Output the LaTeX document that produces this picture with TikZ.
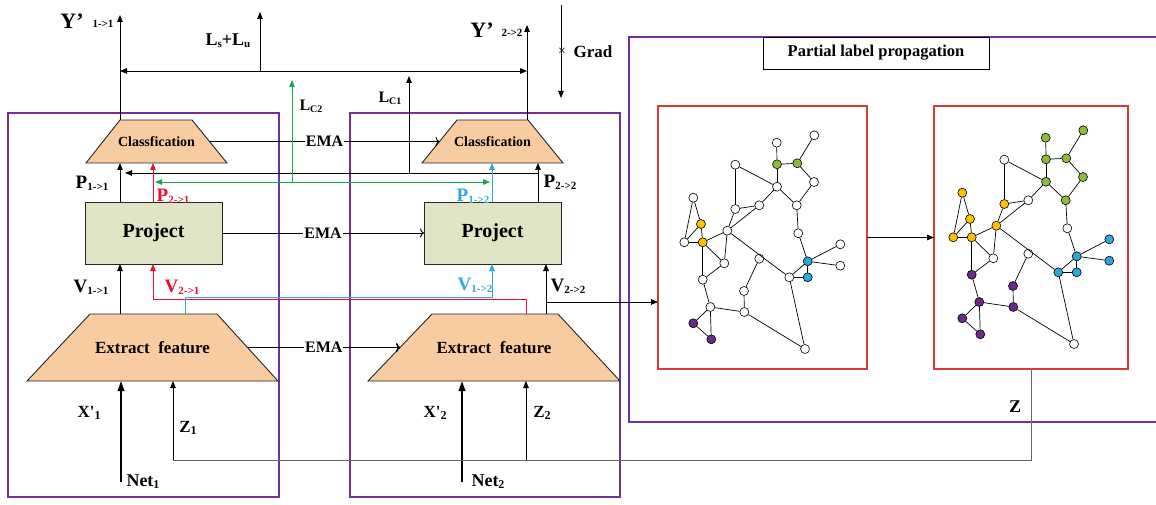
\documentclass[tikz,border=0pt]{standalone}
\usepackage{fontspec}
\setmainfont{Liberation Serif}
\usetikzlibrary{arrows.meta,shapes.geometric}
\definecolor{purp}{HTML}{7030A0}
\definecolor{redbox}{HTML}{D63B3B}
\definecolor{peach}{HTML}{F8CBA0}
\definecolor{projg}{HTML}{E0E5C6}
\definecolor{myred}{HTML}{E8102A}
\definecolor{myblue}{HTML}{2EA8E0}
\definecolor{mygreen}{HTML}{1AA64A}
\definecolor{ngreen}{HTML}{8CBB3C}
\definecolor{nyellow}{HTML}{FFC000}
\definecolor{nblue}{HTML}{2EA5DE}
\definecolor{npurple}{HTML}{6A2A87}
\newcommand{\fs}[1]{\fontsize{#1}{#1}\selectfont}
\newcommand{\lo}[2][11]{\raisebox{-2pt}{\fs{#1}#2}}
\begin{document}
\begin{tikzpicture}[x=1pt,y=-1pt,
  purplebox/.style={draw=purp,line width=1.8pt},
  hold/.style={rectangle,inner sep=0pt,outer sep=0pt},
  trapfill/.style={draw=black!85,fill=peach,line width=0.9pt},
  projbox/.style={rectangle,draw=black!85,fill=projg,line width=0.9pt,minimum width=137pt,minimum height=62pt,inner sep=0pt,outer sep=0pt},
  gframe/.style={rectangle,draw=redbox,line width=1.5pt,minimum height=263pt,inner sep=0pt,outer sep=0pt},
  txt/.style={font=\bfseries,inner sep=0pt},
  arr/.style={-{Triangle[length=7pt,width=5.5pt]},line width=0.8pt},
  thickarr/.style={-{Triangle[length=10pt,width=6.5pt]},line width=2pt},
  dblarr/.style={{Triangle[length=7pt,width=5.5pt]}-{Triangle[length=7pt,width=5.5pt]},line width=0.8pt},
  emaarr/.style={-{To[length=4pt,width=9pt]},line width=0.9pt},
  ema/.style={font=\bfseries\fs{16},fill=white,inner sep=1pt},
  gn/.style={circle,draw=black,line width=0.6pt,minimum size=9pt,inner sep=0pt},
  gedge/.style={line width=0.7pt},
  zline/.style={draw=black!60,line width=1pt},
]
\useasboundingbox (0,0) rectangle (1156,505);

% frames
\draw[purplebox] (8,113) rectangle (279,497);
\draw[purplebox] (350,113) rectangle (620,497);
\draw[purplebox] (1156,37) -- (629,37) -- (629,422) -- (1156,422);

% blocks network 1
\node[hold,minimum width=141pt,minimum height=43pt] (cls1) at (156.5,141.5) {};
\draw[trapfill] ([xshift=34pt]cls1.north west) -- ([xshift=-35pt]cls1.north east) -- (cls1.south east) -- (cls1.south west) -- cycle;
\node[txt,font=\bfseries\fs{14}] (cls1t) at (cls1.center) {Classfication};
\node[projbox] (proj1) at (153.5,233) {};
\node[txt,font=\bfseries\fs{20}] (proj1t) at (proj1.center) {Project};
\node[hold,minimum width=251pt,minimum height=67pt] (ext1) at (152.5,347.5) {};
\draw[trapfill] ([xshift=63pt]ext1.north west) -- ([xshift=-61pt]ext1.north east) -- (ext1.south east) -- (ext1.south west) -- cycle;
\node[txt,font=\bfseries\fs{17}] (ext1t) at (ext1.center) {Extract\ \ feature};

% blocks network 2
\node[hold,minimum width=141pt,minimum height=43pt] (cls2) at (492.5,141.5) {};
\draw[trapfill] ([xshift=35pt]cls2.north west) -- ([xshift=-35pt]cls2.north east) -- (cls2.south east) -- (cls2.south west) -- cycle;
\node[txt,font=\bfseries\fs{14}] (cls2t) at (cls2.center) {Classfication};
\node[projbox] (proj2) at (492.5,233) {};
\node[txt,font=\bfseries\fs{20}] (proj2t) at (proj2.center) {Project};
\node[hold,minimum width=252pt,minimum height=67pt] (ext2) at (494,347.5) {};
\draw[trapfill] ([xshift=64pt]ext2.north west) -- ([xshift=-62pt]ext2.north east) -- (ext2.south east) -- (ext2.south west) -- cycle;
\node[txt,font=\bfseries\fs{17}] (ext2t) at (ext2.center) {Extract\ \ feature};

% graph panel
\node[draw,line width=0.9pt,minimum width=226pt,minimum height=32pt,inner sep=0pt,fill=white,font=\bfseries\fs{16.5}] (title) at (876,53) {Partial label propagation};
\node[gframe,minimum width=209pt] (gbox1) at (762.5,237.5) {};
\node[gframe,minimum width=194pt] (gbox2) at (1031,237.5) {};
\draw[arr] (gbox1.east) -- (gbox2.west);

% column coordinates
\coordinate (cA) at (120,0);
\coordinate (cR) at (153,0);
\coordinate (cB) at (185,0);
\coordinate (cBl) at (492,0);
\coordinate (cRr) at (526,0);
\coordinate (cE) at (538,0);
\coordinate (cF) at (546,0);
\coordinate (cD) at (527,0);
\coordinate (redy) at (0,299);
\coordinate (bluey) at (0,297);

% EMA links
\draw[emaarr] ([xshift=-17.5pt]cls1.east) -- node[ema] (ema1) {EMA} ([xshift=17.5pt]cls2.west);
\draw[emaarr] (proj1.east) -- node[ema] (ema2) {EMA} (proj2.west);
\draw[emaarr,line width=1.5pt] ([xshift=-30.5pt]ext1.east) -- node[ema] (ema3) {EMA} ([xshift=32pt]ext2.west);

% network 1 vertical flow
\draw[arr] (ext1.north -| cA) -- (proj1.south -| cA);
\draw[arr] (proj1.north -| cA) -- (cls1.south -| cA);
\coordinate (y11) at (120,15);
\draw[arr] (cls1.north -| cA) -- (y11);

% network 2 vertical flow
\draw[arr] (ext2.north -| cF) -- (proj2.south -| cF);
\draw[arr] (proj2.north -| cE) -- (cls2.south -| cE);
\coordinate (y22) at (527,25);
\draw[arr] (cls2.north -| cD) -- (y22);

% losses
\coordinate (tl) at (120,71);
\coordinate (tr) at (527,71);
\draw[dblarr] (tl) -- (tr);
\coordinate (lsb) at (260,71);
\coordinate (lst) at (260,12);
\draw[arr] (lsb) -- (lst);
\coordinate (pb) at (538,173);
\coordinate (pa) at (125,173);
\draw[arr] (pb) -- (pa);
\coordinate (lc1b) at (409,173);
\coordinate (lc1t) at (409,76);
\draw[arr] (lc1b) -- (lc1t);
\coordinate (gr1) at (561,5);
\coordinate (gr2) at (561,98);
\draw[arr] (gr1) -- (gr2);

% green
\coordinate (gl) at (155,182);
\coordinate (grr) at (490,182);
\coordinate (lc2b) at (292,182);
\coordinate (lc2t) at (292,80);
\draw[dblarr,color=mygreen] (gl) -- (grr);
\draw[arr,color=mygreen] (lc2b) -- (lc2t);

% red cross path
\draw[arr,color=myred] (ext2.north -| cRr) -- (cRr |- redy) -- (cR |- redy) -- (proj1.south -| cR);
\draw[arr,color=myred] (proj1.north -| cR) -- (cls1.south -| cR);
% blue cross path
\draw[arr,color=myblue] (ext1.north -| cB) -- (cB |- bluey) -- (cBl |- bluey) -- (proj2.south -| cBl);
\draw[arr,color=myblue] (proj2.north -| cBl) -- (cls2.south -| cBl);

% to graph
\coordinate (vb) at (546,302);
\draw[arr] (vb) -- (vb -| gbox1.west);

% inputs
\coordinate (n1b) at (121,482);
\coordinate (n2b) at (462,482);
\draw[thickarr] (n1b) -- (n1b |- ext1.south);
\draw[thickarr] (n2b) -- (n2b |- ext2.south);
\coordinate (zc) at (1031,460);
\coordinate (z1) at (173,460);
\coordinate (z2) at (526,460);
\draw[zline] (gbox2.south) -- (zc) -- (z1);
\draw[arr] (z1) -- (z1 |- ext1.south);
\draw[arr] (z2) -- (z2 |- ext2.south);

% labels
\node[txt,font=\bfseries\fs{22}] (ly1) at (72,21) {Y’};
\node[txt,font=\bfseries\fs{11}] (ly1s) at (103,24) {1->1};
\node[txt,font=\bfseries\fs{22}] (ly2) at (482,30) {Y’};
\node[txt,font=\bfseries\fs{11}] (ly2s) at (512,33) {2->2};
\node[txt] (lls) at (228,41) {\fs{18}L\lo{s}+L\lo{u}};
\node[txt,font=\fs{14}] (lx) at (562,52) {×};
\node[txt,font=\bfseries\fs{17}] (lgrad) at (593,52) {Grad};
\node[txt] (llc2) at (311,106) {\fs{16}L\lo[10]{C2}};
\node[txt] (llc1) at (390,98) {\fs{16}L\lo[10]{C1}};
\node[txt] (lp11) at (92,183) {\fs{19}P\lo{1->1}};
\node[txt,text=myred] (lp21) at (173,196) {\fs{19}P\lo{2->1}};
\node[txt,text=myblue] (lp12) at (473,196) {\fs{19}P\lo{1->2}};
\node[txt] (lp22) at (560,182) {\fs{19}P\lo{2->2}};
\node[txt] (lv11) at (91,287) {\fs{19}V\lo{1->1}};
\node[txt,text=myred] (lv21) at (182,287) {\fs{19}V\lo{2->1}};
\node[txt,text=myblue] (lv12) at (475,285) {\fs{19}V\lo{1->2}};
\node[txt] (lv22) at (568,286) {\fs{19}V\lo{2->2}};
\node[txt] (lx1) at (89,413) {\fs{17}X\textquotesingle\lo[12]{1}};
\node[txt] (lz1) at (188,428) {\fs{17}Z\lo[12]{1}};
\node[txt] (lnet1) at (143,482) {\fs{18}Net\lo[12]{1}};
\node[txt] (lx2) at (435,413) {\fs{17}X\textquotesingle\lo[12]{2}};
\node[txt] (lz2) at (542,413) {\fs{17}Z\lo[12]{2}};
\node[txt] (lnet2) at (488,482) {\fs{18}Net\lo[12]{2}};
\node[txt,font=\bfseries\fs{18}] (lz) at (1015,407) {Z};

% graphs
\foreach \n/\x/\y/\ca/\cb in {
 1/776.7/142.7/white/ngreen, 2/814.3/135.3/white/ngreen, 3/777/164.3/ngreen/ngreen,
 4/797.3/163.3/ngreen/ngreen, 5/735.3/164.7/white/white, 6/814/182/white/ngreen,
 7/777/186.7/white/ngreen, 8/796.7/205.3/white/ngreen, 9/693.3/197.7/white/nyellow,
 10/735.3/209/white/nyellow, 11/759.3/205.3/white/white, 12/701/224/nyellow/nyellow,
 13/727.3/230.7/white/nyellow, 14/684.3/242.3/white/nyellow, 15/702.7/242.3/nyellow/nyellow,
 16/798.3/233.3/white/white, 17/840.3/244.3/white/nblue, 18/759.3/258.7/white/white,
 19/807.7/261.3/nblue/nblue, 20/840.3/265.7/white/nblue, 21/724.3/263.3/white/white,
 22/789.3/277.3/white/nblue, 23/807.7/277.3/nblue/nblue, 24/702.7/279.7/white/npurple,
 25/744/291/white/npurple, 26/710.3/307/white/npurple, 27/744.3/312/white/npurple,
 28/693.3/323.3/npurple/npurple, 29/711.3/339.3/npurple/npurple, 30/805/349/white/white}
{
  \node[gn,fill=\ca] (a\n) at (\x,\y) {};
  \node[gn,fill=\cb] (b\n) at ({\x+269},{\y-5}) {};
}
\foreach \u/\v in {1/3,3/4,4/2,4/6,6/8,3/7,5/7,5/10,7/8,7/11,10/11,11/13,10/13,
 9/12,9/14,12/14,14/15,12/15,15/13,15/21,13/21,24/21,15/24,13/22,8/16,16/19,19/17,
 19/20,19/23,19/22,22/23,22/30,18/25,25/27,27/26,26/24,26/28,26/29,28/29,27/30}
{
  \draw[gedge] (a\u) -- (a\v);
  \draw[gedge] (b\u) -- (b\v);
}
\end{tikzpicture}
\end{document}
